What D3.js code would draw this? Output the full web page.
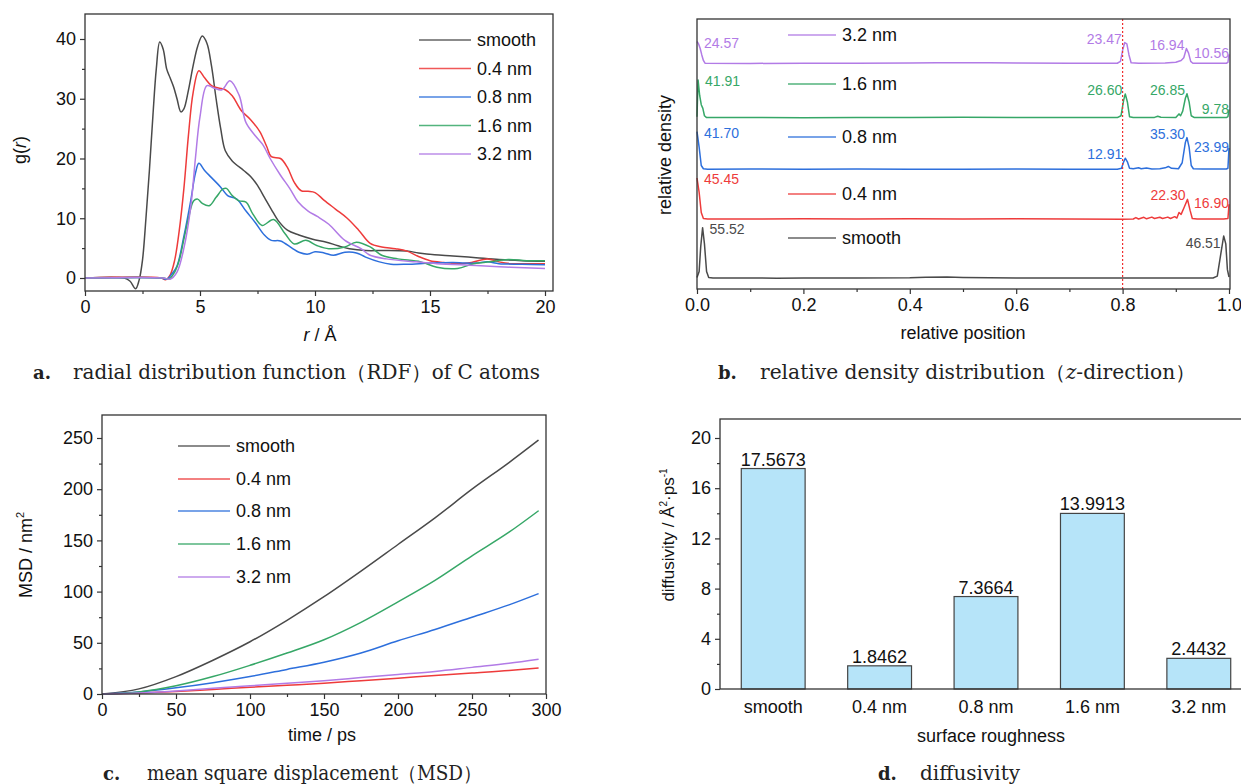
<!DOCTYPE html>
<html>
<head>
<meta charset="utf-8">
<script src="https://cdn.jsdelivr.net/npm/d3@7"></script>
<style>
body { margin: 0; background: #fff; }
svg { display: block; }
</style>
</head>
<body>
<svg id="fig" width="1241" height="784"></svg>
<script>
// ---- data ----
const seriesNames = ["smooth", "0.4 nm", "0.8 nm", "1.6 nm", "3.2 nm"];
const seriesColors = ["#4a4a4a", "#ee3b3b", "#2d6fdc", "#36a767", "#b27be6"];

// a. RDF of C atoms, [r (Å), g(r)]
const rdfSmooth = [[0,0],[1.7,0],[1.95,-0.5],[2.2,-1.8],[2.35,-0.4],[2.5,3],[2.65,10],[2.8,18],[2.95,27],[3.1,35],[3.25,39.5],[3.4,38.3],[3.55,35],[3.7,33.5],[3.85,32],[4.0,30],[4.17,27.8],[4.3,28.3],[4.5,31.5],[4.7,35.5],[4.9,38.8],[5.1,40.5],[5.3,39.3],[5.5,35.5],[5.7,30],[5.9,25],[6.1,21.3],[6.4,19.6],[6.9,18],[7.2,17],[7.5,15.5],[7.8,13.5],[8.1,11.5],[8.4,9.6],[8.8,8],[9.3,7.2],[9.9,6.5],[10.5,6.0],[11.0,5.4],[11.5,4.9],[12.2,4.6],[13,4.6],[14,4.5],[14.5,4.2],[15.2,3.9],[16,3.7],[17,3.4],[18,3.1],[19,2.9],[20,2.8]];
const rdf04 = [[0,0],[3.3,0],[3.5,-0.3],[3.7,0.5],[3.9,3],[4.1,8],[4.3,15],[4.5,24],[4.7,31],[4.95,34.7],[5.2,33.5],[5.5,32.2],[5.8,31.8],[6.1,31.5],[6.4,30.5],[6.8,28],[7.2,26.5],[7.6,24.5],[7.9,22],[8.1,20.3],[8.5,20],[8.8,18.5],[9.1,16],[9.4,14.6],[9.7,14.5],[10.0,14.3],[10.4,13],[10.9,11.5],[11.4,10],[11.9,8],[12.4,5.8],[12.9,5.2],[13.5,4.9],[14,4.5],[14.5,3.6],[15,2.9],[15.6,2.6],[16.2,2.4],[16.8,2.6],[17.5,3.2],[18,2.7],[18.5,2.4],[19.2,2.4],[20,2.4]];
const rdf08 = [[0,0],[3.3,0],[3.55,-0.2],[3.8,0.8],[4.0,2],[4.3,7],[4.6,13],[4.8,17.5],[4.95,19.2],[5.2,18],[5.5,16.8],[5.9,15.2],[6.2,13.8],[6.6,13.2],[7.0,11.2],[7.4,9.3],[7.8,7.2],[8.1,6.3],[8.5,6.2],[9.0,5.0],[9.3,4.3],[9.7,4.0],[10.0,4.4],[10.4,4.2],[10.8,3.8],[11.3,4.3],[11.8,4.2],[12.2,3.5],[12.8,2.7],[13.3,2.3],[14,2.3],[15,2.5],[16,2.6],[16.5,2.5],[17,2.5],[17.5,2.7],[18,2.4],[19,2.3],[20,2.2]];
const rdf16 = [[0,0],[3.4,0],[3.65,-0.2],[3.9,1],[4.1,3],[4.3,6.5],[4.5,10],[4.72,12.9],[4.9,13.2],[5.1,12.5],[5.4,12.1],[5.7,13.5],[6.0,14.9],[6.15,15],[6.4,13.8],[6.7,12.9],[7.0,12.7],[7.3,10.7],[7.7,8.8],[8.2,9.8],[8.7,7.4],[9.1,5.7],[9.6,6.3],[10.1,5.4],[10.6,4.9],[11.3,5.2],[11.8,6],[12.4,5.2],[12.9,3.8],[13.6,3.2],[14.6,2.7],[15.3,1.8],[16.2,1.6],[16.9,2.4],[17.6,2.7],[18.4,3.1],[19.2,2.9],[20,2.9]];
const rdf32 = [[0,0],[3.4,0],[3.7,-0.2],[4.0,1],[4.3,5],[4.6,12],[4.8,20],[5.0,27],[5.3,32.2],[5.6,31.8],[5.95,31.5],[6.3,33],[6.7,30.6],[7.0,26],[7.45,23.6],[7.75,22.2],[8.05,20],[8.5,17.2],[8.9,15],[9.25,12.8],[9.7,11.2],[10.1,10.3],[10.6,9],[11.3,6.3],[12.0,4.9],[12.4,3.8],[13.1,3.2],[14.4,2.7],[15.3,2.4],[17,2.1],[18.5,1.8],[20,1.6]];
const rdfSeries = [rdfSmooth, rdf04, rdf08, rdf16, rdf32];

// b. relative density along z, [relative position, relative density]
const densSmooth = [[0,1.5],[0.004,8],[0.007,35],[0.0105,55.52],[0.014,38],[0.018,8],[0.022,1.5],[0.03,1],[0.1,1],[0.15,0.8],[0.2,0.9],[0.3,1],[0.4,1.2],[0.43,1.8],[0.47,2],[0.5,1.6],[0.55,1.2],[0.6,1],[0.7,0.9],[0.8,1],[0.9,1],[0.97,1],[0.978,3],[0.984,25],[0.99,46.51],[0.994,38],[0.997,10],[1.0,2]];
const dens04 = [[0,45.45],[0.004,30],[0.008,8],[0.012,1.5],[0.02,1],[0.1,0.9],[0.2,1.1],[0.3,0.9],[0.4,1.1],[0.5,1],[0.6,1.1],[0.7,0.9],[0.8,0.8],[0.82,1],[0.825,2.5],[0.83,1],[0.84,2.8],[0.845,1.2],[0.855,3],[0.86,1.5],[0.87,2.8],[0.875,1.5],[0.885,3],[0.89,1.5],[0.898,3.5],[0.902,2],[0.906,8],[0.91,6],[0.916,14],[0.922,22.3],[0.927,10],[0.931,1.5],[0.94,1],[0.99,1],[0.998,1.5],[1.0,16.9]];
const dens08 = [[0,41.7],[0.004,25],[0.008,5],[0.012,1.5],[0.02,1],[0.1,1.2],[0.2,1],[0.3,1.1],[0.4,0.9],[0.5,1],[0.6,1.2],[0.7,1],[0.79,1],[0.798,2],[0.802,9],[0.805,12.91],[0.809,9],[0.813,2],[0.82,1.5],[0.83,2.5],[0.835,1.5],[0.845,2.2],[0.855,1.3],[0.87,1.5],[0.88,2.5],[0.886,4],[0.892,2],[0.905,1.5],[0.912,8],[0.918,30],[0.921,35.3],[0.925,25],[0.929,5],[0.933,1.5],[0.95,1.2],[0.995,1.2],[0.998,2],[1.0,23.99]];
const dens16 = [[0,2],[0.002,41.91],[0.005,25],[0.008,15],[0.011,11],[0.014,3],[0.018,1],[0.1,1.1],[0.2,0.9],[0.3,1.2],[0.4,1],[0.5,1.3],[0.6,1.1],[0.7,1],[0.79,1],[0.797,3],[0.802,20],[0.805,26.6],[0.809,18],[0.813,2],[0.82,1],[0.86,1.2],[0.866,2.5],[0.872,1.3],[0.9,1],[0.906,5],[0.909,3],[0.913,8],[0.918,22],[0.921,26.85],[0.925,18],[0.929,3],[0.935,1],[0.995,1],[0.998,2],[1.0,9.78]];
const dens32 = [[0,24.57],[0.003,22],[0.006,17],[0.009,10],[0.012,4],[0.015,1],[0.1,0.8],[0.2,1],[0.3,1.1],[0.4,1.3],[0.45,1.6],[0.5,1.5],[0.55,1.4],[0.6,1.2],[0.7,1],[0.79,1],[0.796,3],[0.8,15],[0.804,23.47],[0.808,22],[0.812,10],[0.816,1.5],[0.83,1],[0.88,1.2],[0.9,2],[0.91,4],[0.915,7],[0.92,16.94],[0.924,12],[0.928,3],[0.932,1],[0.995,1],[0.998,2],[1.0,10.56]];
const densSeries = [densSmooth, dens04, dens08, dens16, dens32];
const densOffsets = [11, 75, 129, 185, 244]; // vertical stacking of the curves
// peak annotations [position, value text, series index]
const densPeaks = [
  [0.0105, "55.52", 0], [0.99, "46.51", 0],
  [0, "45.45", 1], [0.922, "22.30", 1], [1.0, "16.90", 1],
  [0, "41.70", 2], [0.805, "12.91", 2], [0.921, "35.30", 2], [1.0, "23.99", 2],
  [0.002, "41.91", 3], [0.805, "26.60", 3], [0.921, "26.85", 3], [1.0, "9.78", 3],
  [0, "24.57", 4], [0.804, "23.47", 4], [0.92, "16.94", 4], [1.0, "10.56", 4]
];

// c. MSD, time (ps) and MSD (nm²)
const msdTime = [0, 25, 50, 75, 100, 125, 150, 175, 200, 225, 250, 275, 295];
const msdSmooth = [0, 5, 17, 33, 51, 72, 95, 120, 146, 172, 200, 226, 248];
const msd04 = [0, 1, 2.5, 4.5, 6.5, 8.5, 10.5, 13, 15.5, 18, 20.5, 23, 25.5];
const msd08 = [0, 2, 6, 11, 17, 24, 31, 40, 52, 63, 75, 87, 98];
const msd16 = [0, 2, 8, 17, 28, 40, 53, 70, 90, 111, 135, 158, 179];
const msd32 = [0, 1, 3, 5.5, 8, 10.5, 13, 16, 19, 22, 26, 30, 34];
const msdSeries = [msdSmooth, msd04, msd08, msd16, msd32];

// d. diffusivity (Å²/ps)
const diffValues = [17.5673, 1.8462, 7.3664, 13.9913, 2.4432];

// ---- drawing ----
const SANS = "'Liberation Sans',Arial,sans-serif";
const SERIF = "'DejaVu Serif','Liberation Serif',serif";
const svg = d3.select("#fig");
svg.append("rect").attr("width", 1241).attr("height", 784).attr("fill", "#fff");

function frame(x0, y0, x1, y1) {
  svg.append("rect")
    .attr("x", x0).attr("y", y0)
    .attr("width", x1 - x0).attr("height", y1 - y0)
    .attr("fill", "none").attr("stroke", "#333").attr("stroke-width", 1.3);
}

function axis(gen, tx, ty, major, minor, fmt) {
  const g = svg.append("g").attr("transform", `translate(${tx},${ty})`)
    .call(gen.tickValues(major).tickSize(5).tickSizeOuter(0).tickPadding(4).tickFormat(fmt));
  g.select(".domain").remove();
  g.selectAll("line").attr("stroke", "#333").attr("stroke-width", 1.2);
  g.selectAll("text").attr("font-family", SANS).attr("font-size", 18).attr("fill", "#111");
  if (minor) {
    const m = svg.append("g").attr("transform", `translate(${tx},${ty})`)
      .call(gen.tickValues(minor).tickSize(3).tickFormat(""));
    m.select(".domain").remove();
    m.selectAll("line").attr("stroke", "#333").attr("stroke-width", 1.2);
  }
  return g;
}

function legend(x0, x1, ys, order) {
  order.forEach((si, i) => {
    svg.append("line").attr("x1", x0).attr("x2", x1).attr("y1", ys[i]).attr("y2", ys[i])
      .attr("stroke", seriesColors[si]).attr("stroke-width", 1.6).attr("opacity", 0.85);
    svg.append("text").attr("x", x1 + 6).attr("y", ys[i] + 6)
      .attr("font-family", SANS).attr("font-size", 18).attr("fill", "#111")
      .text(seriesNames[si]);
  });
}

function caption(x, y, label, gap, width, build) {
  svg.append("text").attr("x", x).attr("y", y)
    .attr("font-family", SERIF).attr("font-size", 18).attr("font-weight", "bold")
    .attr("fill", "#222").text(label);
  const t = svg.append("text").attr("x", x + gap).attr("y", y)
    .attr("font-family", SERIF).attr("font-size", 19.5).attr("fill", "#222")
    .attr("textLength", width).attr("lengthAdjust", "spacingAndGlyphs");
  build(t);
}

function label(x, y, rot, size, build) {
  const t = svg.append("text")
    .attr("transform", `translate(${x},${y})` + (rot ? " rotate(-90)" : ""))
    .attr("text-anchor", "middle").attr("font-family", SANS).attr("font-size", size).attr("fill", "#111");
  build(t);
}

// ---------- panel a ----------
const xA = d3.scaleLinear().domain([0, 20]).range([85, 545]);
const yA = d3.scaleLinear().domain([0, 40]).range([278, 39]);
const lineA = d3.line().x(d => xA(d[0])).y(d => yA(d[1])).curve(d3.curveCatmullRom.alpha(0.5));
rdfSeries.forEach((s, i) => {
  svg.append("path").datum(s).attr("d", lineA).attr("fill", "none")
    .attr("stroke", seriesColors[i]).attr("stroke-width", 1.5);
});
frame(85, 14, 553, 291);
axis(d3.axisBottom(xA), 0, 291, [0, 5, 10, 15, 20], [2.5, 7.5, 12.5, 17.5], d3.format("d"));
axis(d3.axisLeft(yA), 85, 0, [0, 10, 20, 30, 40], [5, 15, 25, 35], d3.format("d"));
legend(419, 471, [40, 68.5, 97, 125.5, 154], [0, 1, 2, 3, 4]);
label(26, 150, true, 18, t => { t.append("tspan").text("g("); t.append("tspan").attr("font-style", "italic").text("r"); t.append("tspan").text(")"); });
label(320, 341, false, 18, t => { t.append("tspan").attr("font-style", "italic").text("r"); t.append("tspan").text(" / Å"); });
caption(33, 379, "a.", 40, 467, t => t.text("radial distribution function（RDF）of C atoms"));

// ---------- panel b ----------
const xB = d3.scaleLinear().domain([0, 1]).range([697, 1229]);
const yB = d3.scaleLinear().domain([0, 293]).range([289, 19]);
densSeries.forEach((s, i) => {
  const line = d3.line().x(d => xB(d[0])).y(d => yB(d[1] + densOffsets[i]));
  svg.append("path").datum(s).attr("d", line).attr("fill", "none")
    .attr("stroke", seriesColors[i]).attr("stroke-width", 1.5).attr("stroke-linejoin", "round");
});
svg.append("line").attr("x1", xB(0.8)).attr("x2", xB(0.8)).attr("y1", 19).attr("y2", 289)
  .attr("stroke", "#f03030").attr("stroke-width", 1.2).attr("stroke-dasharray", "2,2");
densPeaks.forEach(([p, txt, si]) => {
  const px = xB(p), py = yB(+txt + densOffsets[si]);
  let x, y, anchor;
  if (p < 0.05) { x = px + 7; y = py + 6; anchor = "start"; }
  else if (p < 0.85) { x = px - 3; y = py + 1; anchor = "end"; }
  else if (p < 0.95) { x = px - 2; y = py + 1; anchor = "end"; }
  else if (p < 0.999) { x = px - 3; y = py + 12; anchor = "end"; }
  else { x = px; y = py + 4; anchor = "end"; }
  svg.append("text").attr("x", x).attr("y", y).attr("text-anchor", anchor)
    .attr("font-family", SANS).attr("font-size", 14).attr("fill", seriesColors[si]).text(txt);
});
frame(697, 19, 1230, 289);
axis(d3.axisBottom(xB), 0, 289, [0, 0.2, 0.4, 0.6, 0.8, 1.0], [0.1, 0.3, 0.5, 0.7, 0.9], d3.format(".1f"));
legend(788, 836, [35, 84, 137, 194, 238], [4, 3, 2, 1, 0]);
label(671, 155, true, 18, t => t.text("relative density"));
label(963, 339, false, 18, t => t.text("relative position"));
caption(718, 379, "b.", 42, 436, t => {
  t.append("tspan").text("relative density distribution（");
  t.append("tspan").attr("font-style", "italic").text("z");
  t.append("tspan").text("-direction）");
});

// ---------- panel c ----------
const xC = d3.scaleLinear().domain([0, 300]).range([102, 546]);
const yC = d3.scaleLinear().domain([0, 250]).range([694, 438]);
msdSeries.forEach((s, i) => {
  const line = d3.line().x((d, j) => xC(msdTime[j])).y(d => yC(d)).curve(d3.curveMonotoneX);
  svg.append("path").datum(s).attr("d", line).attr("fill", "none")
    .attr("stroke", seriesColors[i]).attr("stroke-width", 1.5);
});
frame(102, 415, 546, 694);
axis(d3.axisBottom(xC), 0, 694, d3.range(0, 301, 50), d3.range(25, 300, 50), d3.format("d"));
axis(d3.axisLeft(yC), 102, 0, d3.range(0, 251, 50), d3.range(25, 250, 50), d3.format("d"));
legend(178, 230, [446, 479, 511, 544, 577], [0, 1, 2, 3, 4]);
label(32, 555, true, 18, t => { t.append("tspan").text("MSD / nm"); t.append("tspan").attr("font-size", 11).attr("dy", -8).text("2"); });
label(322, 741, false, 18, t => t.text("time / ps"));
caption(103, 780, "c.", 44, 335, t => t.text("mean square displacement（MSD）"));

// ---------- panel d ----------
const xD = d3.scaleBand().domain(seriesNames).range([720, 1252]).paddingInner(0.4).paddingOuter(0.2);
const yD = d3.scaleLinear().domain([0, 20]).range([689, 438]);
svg.selectAll(".bar").data(diffValues).enter().append("rect")
  .attr("class", "bar")
  .attr("x", (d, i) => xD(seriesNames[i]))
  .attr("width", xD.bandwidth())
  .attr("y", d => yD(d))
  .attr("height", d => yD(0) - yD(d))
  .attr("fill", "#b6e4f9").attr("stroke", "#444").attr("stroke-width", 1.2);
svg.selectAll(".barlab").data(diffValues).enter().append("text")
  .attr("x", (d, i) => xD(seriesNames[i]) + xD.bandwidth() / 2)
  .attr("y", d => yD(d) - 3)
  .attr("text-anchor", "middle").attr("font-family", SANS).attr("font-size", 18).attr("fill", "#111")
  .text(d => d.toFixed(4));
frame(720, 419, 1252, 689);
axis(d3.axisLeft(yD), 720, 0, d3.range(0, 21, 4), d3.range(2, 20, 4), d3.format("d"));
seriesNames.forEach(n => {
  svg.append("text").attr("x", xD(n) + xD.bandwidth() / 2).attr("y", 713)
    .attr("text-anchor", "middle").attr("font-family", SANS).attr("font-size", 18).attr("fill", "#111")
    .text(n);
});
label(674, 535, true, 17, t => {
  t.append("tspan").text("diffusivity / Å");
  t.append("tspan").attr("font-size", 10).attr("dy", -7).text("2");
  t.append("tspan").attr("dy", 7).text("·ps");
  t.append("tspan").attr("font-size", 10).attr("dy", -7).text("-1");
});
label(991, 742, false, 18, t => t.text("surface roughness"));
caption(878, 780, "d.", 42, 100, t => t.text("diffusivity"));
</script>
</body>
</html>
